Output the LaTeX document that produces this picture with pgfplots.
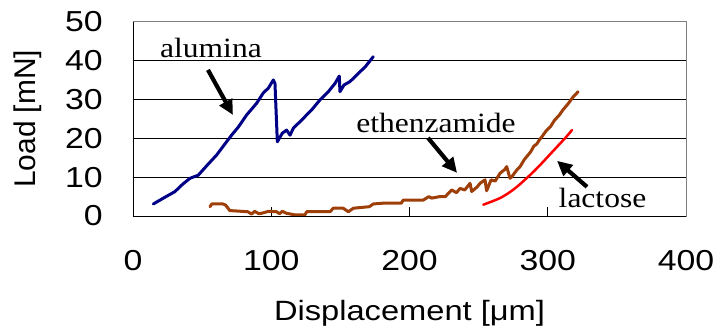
\documentclass[border=0pt]{standalone}
\usepackage{pgfplots}
\pgfplotsset{compat=1.18}
\usepackage{fontspec}
\setmainfont{Liberation Serif}
\newfontfamily\sansw[FakeStretch=1.17]{Liberation Sans}
\newfontfamily\sansn{Liberation Sans}
\newfontfamily\serifw[FakeStretch=1.13]{Liberation Serif}
\usetikzlibrary{arrows.meta}
\definecolor{alu}{RGB}{0,0,135}
\definecolor{eth}{RGB}{158,62,8}
\definecolor{lac}{RGB}{255,0,0}
\begin{document}
\begin{tikzpicture}
\begin{axis}[
  scale only axis, width=553bp, height=194.3bp,
  xmin=0, xmax=400, ymin=0, ymax=50,
  xtick={0,100,200,300,400}, ytick={0,10,20,30,40,50},
  xtick pos=bottom, ytick pos=left,
  tick align=inside, major tick length=9bp,
  tick style={black, line width=0.8bp},
  ymajorgrids, grid style={black, line width=0.9bp},
  axis line style={draw=gray, line width=0.9bp},
  /pgf/number format/assume math mode=true,
  tick label style={font=\sansw\fontsize{29}{32}\selectfont},
  xticklabel style={anchor=north, inner sep=0pt, yshift=-34bp},
  yticklabel style={anchor=east, inner sep=0pt, xshift=-30bp},
  xlabel={Displacement [μm]},
  ylabel={Load [mN]},
  xlabel style={font=\sansw\fontsize{28}{32}\selectfont, anchor=north, inner sep=0pt, at={(axis description cs:0.5,-0.4323)}},
  ylabel style={font=\sansn\fontsize{30}{32}\selectfont, anchor=center, inner sep=0pt, at={(axis description cs:-0.1908,0.5)}},
  clip=false,
]
\addplot[alu, line width=3bp, line join=round, line cap=round] coordinates {
(14.7,3.1) (22,4.6) (30.4,6.3) (36,8.2) (41.2,9.7) (47.2,10.5) (54,13.2) (60.5,15.7)
(67.7,19.1) (71.3,20.8) (76,22.8) (82.2,26.0) (89.4,29.0) (94.3,31.7) (97.9,32.9)
(101.5,35.0) (102.7,34.1) (104.4,19.1) (108.0,21.3) (111.1,22.1) (113.6,20.8)
(116.0,22.6) (122.0,24.7) (129.2,27.3) (135.3,29.9) (141.3,32.0) (146.1,34.1)
(149.2,36.0) (149.7,32.0) (152.6,33.7) (157.0,34.6) (163.0,36.7) (168.0,38.4) (173.8,41.0)
};
\addplot[eth, line width=3bp, line join=round, line cap=round] coordinates {
(55.7,2.4) (57,3.1) (65,3.1) (67,2.8) (70,1.4) (83,1.1) (85.8,0.5) (88,1.2) (91,0.6)
(93,0.7) (98,1.2) (103.8,1.1) (106,0.6) (108,1.2) (111,0.7) (117,0.3) (124.4,0.3)
(125.6,1.1) (142.5,1.1) (144.9,2.0) (152,2.0) (155.8,1.1) (159.4,2.0) (171,2.4)
(173.8,3.1) (181,3.3) (194,3.3) (195.5,4.1) (210,4.1) (214,5.0) (216,4.6) (222,5.0)
(226,5.0) (228,5.8) (230.5,6.7) (234,6.0) (236.5,7.1) (240,6.7) (243.8,8.4) (245,6.3)
(249,7.5) (251,8.4) (254.6,9.3) (255.8,6.5) (259,9.3) (262,9.0) (265.5,11.0) (269,12.0)
(270.3,12.7) (272.7,9.7) (274,10.1) (277.5,11.8) (280,12.7) (283,14.5) (287.6,16.5)
(290,18) (292,18.5) (294,19.6) (296,20.5) (299,22.0) (302,23.0) (305,24.7) (308,25.8)
(311,27.3) (315,29.0) (318,30.5) (322,32.0)
};
\addplot[lac, line width=2.5bp, line join=round, line cap=round, smooth] coordinates {
(253.4,2.9) (260,3.8) (266,4.7) (272,6.0) (278,7.6) (284,9.5) (290,11.5)
(296,13.7) (302,16.0) (308,18.3) (313,20.2) (317.5,22.1)
};
\node[font=\serifw\fontsize{28}{30}\selectfont, anchor=base, inner sep=0pt] at (axis cs:56.4,40.7) {alumina};
\node[font=\serifw\fontsize{28}{30}\selectfont, anchor=base, inner sep=0pt] at (axis cs:219.2,21.4) {ethenzamide};
\node[font=\serifw\fontsize{28}{30}\selectfont, anchor=base, inner sep=0pt] at (axis cs:339.6,2.3) {lactose};
\draw[black, line width=4.2bp, -{Triangle[length=15bp,width=14bp]}] (axis cs:54.2,37.6) -- (axis cs:72.3,26.0);
\draw[black, line width=4.2bp, -{Triangle[length=15bp,width=14bp]}] (axis cs:213.4,20.1) -- (axis cs:234.4,11.1);
\draw[black, line width=4.2bp, -{Triangle[length=15bp,width=14bp]}] (axis cs:328.4,7.5) -- (axis cs:306.7,14.2);
\draw[black, line width=0.9bp] (rel axis cs:0,1) -- (rel axis cs:0,0) -- (rel axis cs:1,0);
\end{axis}
\useasboundingbox (-133bp,-118bp) rectangle (594bp,216bp);
\end{tikzpicture}
\end{document}
